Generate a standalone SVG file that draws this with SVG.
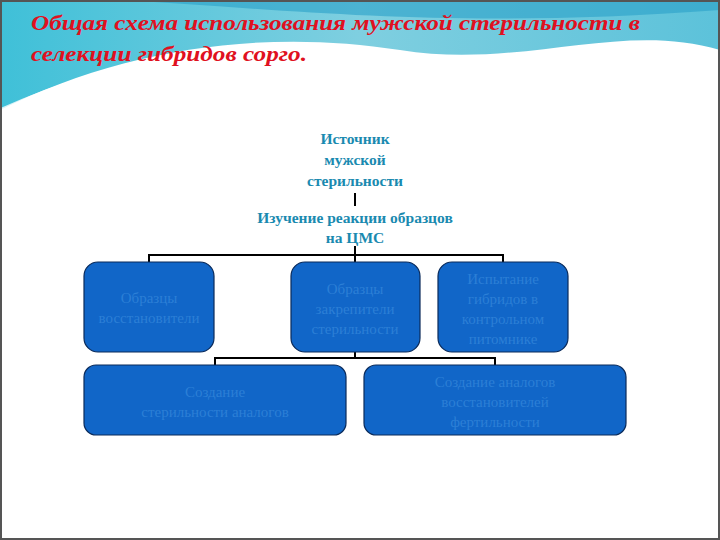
<svg xmlns="http://www.w3.org/2000/svg" width="720" height="540" viewBox="0 0 720 540">
<defs>
<linearGradient id="wave" x1="0" y1="0" x2="1" y2="0">
<stop offset="0" stop-color="#3fc0d8"/><stop offset="0.5" stop-color="#7fcfe0"/><stop offset="1" stop-color="#5cc2da"/>
</linearGradient>
<style>
.box{fill:#1166c8;stroke:#0a2a5a;stroke-width:1.2}
.bt{font-family:"Liberation Serif",serif;font-size:15px;fill:#2c7fd6;text-anchor:middle}
.ht{font-family:"Liberation Serif",serif;font-size:15.5px;font-weight:bold;fill:#1a8ab0;text-anchor:middle}
.ln{stroke:#000;stroke-width:2;fill:none}
</style>
</defs>
<rect width="720" height="540" fill="#fff"/>
<path d="M0 0 H720 V50 C620 20 520 70 400 50 C260 28 120 50 0 110 Z" fill="url(#wave)"/>
<path d="M0 110 C120 55 260 35 400 55 C520 75 620 30 720 55" stroke="#fff" stroke-width="3" fill="none" opacity="0.8"/>
<path d="M120 0 C300 10 450 30 720 10 V0 Z" fill="#2aa0c8" opacity="0.6"/>
<rect x="1" y="1" width="718" height="538" fill="none" stroke="#555" stroke-width="2"/>
<text font-family="'Liberation Serif',serif" font-size="22" font-weight="bold" font-style="italic" fill="#e01020">
<tspan x="31" y="30" textLength="609" lengthAdjust="spacingAndGlyphs">Общая схема использования мужской стерильности в</tspan>
<tspan x="31" y="61" textLength="276" lengthAdjust="spacingAndGlyphs">селекции гибридов сорго.</tspan>
</text>
<g id="connectors">
<path class="ln" d="M355 193 V206"/>
<path class="ln" d="M355 246 V262 M149 262 V255 H503 V262"/>
<path class="ln" d="M355 352 V358 M215 365 V358 H495 V365"/>
</g>
<g id="n1"><text class="ht"><tspan x="355" y="144">Источник</tspan><tspan x="355" y="165">мужской</tspan><tspan x="355" y="186">стерильности</tspan></text></g>
<g id="n2"><text class="ht"><tspan x="355" y="223">Изучение реакции образцов</tspan><tspan x="355" y="243">на ЦМС</tspan></text></g>
<g id="n3"><rect class="box" x="84" y="262" width="130" height="90" rx="14"/><text class="bt"><tspan x="149" y="303">Образцы</tspan><tspan x="149" y="323">восстановители</tspan></text></g>
<g id="n4"><rect class="box" x="291" y="262" width="129" height="90" rx="14"/><text class="bt"><tspan x="355" y="294">Образцы</tspan><tspan x="355" y="314">закрепители</tspan><tspan x="355" y="334">стерильности</tspan></text></g>
<g id="n5"><rect class="box" x="438" y="262" width="130" height="90" rx="14"/><text class="bt"><tspan x="503" y="284">Испытание</tspan><tspan x="503" y="304">гибридов в</tspan><tspan x="503" y="324">контрольном</tspan><tspan x="503" y="344">питомнике</tspan></text></g>
<g id="n6"><rect class="box" x="84" y="365" width="262" height="70" rx="12"/><text class="bt"><tspan x="215" y="397">Создание</tspan><tspan x="215" y="417">стерильности аналогов</tspan></text></g>
<g id="n7"><rect class="box" x="364" y="365" width="262" height="70" rx="12"/><text class="bt"><tspan x="495" y="387">Создание аналогов</tspan><tspan x="495" y="407">восстановителей</tspan><tspan x="495" y="427">фертильности</tspan></text></g>
</svg>
